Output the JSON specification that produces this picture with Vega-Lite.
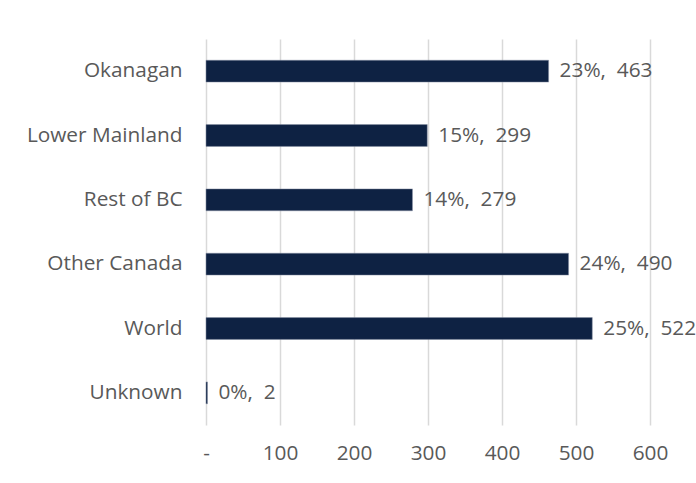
{
  "$schema": "https://vega.github.io/schema/vega-lite/v6.json",
  "autosize": "none",
  "width": 444,
  "height": 386,
  "padding": {"left": 206, "top": 39, "right": 46, "bottom": 58},
  "background": "white",
  "config": {"view": {"stroke": null}, "font": "Open Sans"},
  "data": {
    "values": [
      {"region": "Okanagan", "count": 463, "label": "23%,\u00a0 463"},
      {"region": "Lower Mainland", "count": 299, "label": "15%,\u00a0 299"},
      {"region": "Rest of BC", "count": 279, "label": "14%,\u00a0 279"},
      {"region": "Other Canada", "count": 490, "label": "24%,\u00a0 490"},
      {"region": "World", "count": 522, "label": "25%,\u00a0 522"},
      {"region": "Unknown", "count": 2, "label": "0%,\u00a0 2"}
    ]
  },
  "encoding": {
    "y": {
      "field": "region",
      "type": "nominal",
      "sort": ["Okanagan", "Lower Mainland", "Rest of BC", "Other Canada", "World", "Unknown"],
      "scale": {"paddingInner": 0.66, "paddingOuter": 0.33},
      "axis": {"title": null, "domain": false, "ticks": false, "labelPadding": 24, "labelFontSize": 20.8, "labelColor": "#595959", "labelFont": "Open Sans", "labelLimit": 300}
    },
    "x": {
      "field": "count",
      "type": "quantitative",
      "scale": {"domain": [0, 600], "nice": false},
      "axis": {
        "title": null, "domain": false, "ticks": false, "values": [0, 100, 200, 300, 400, 500, 600],
        "labelExpr": "datum.value == 0 ? '-' : datum.label",
        "labelFlush": false, "labelOverlap": false,
        "labelPadding": 18, "labelFontSize": 20.8, "labelColor": "#595959",
        "gridColor": "#d9d9d9", "gridWidth": 1.5
      }
    }
  },
  "layer": [
    {"mark": {"type": "bar", "color": "#0e2243", "stroke": "#8a93a6", "strokeWidth": 0.5}},
    {"mark": {"type": "text", "align": "left", "dx": 11, "fontSize": 20.8, "color": "#595959", "font": "Open Sans"}, "encoding": {"text": {"field": "label"}}}
  ]
}
